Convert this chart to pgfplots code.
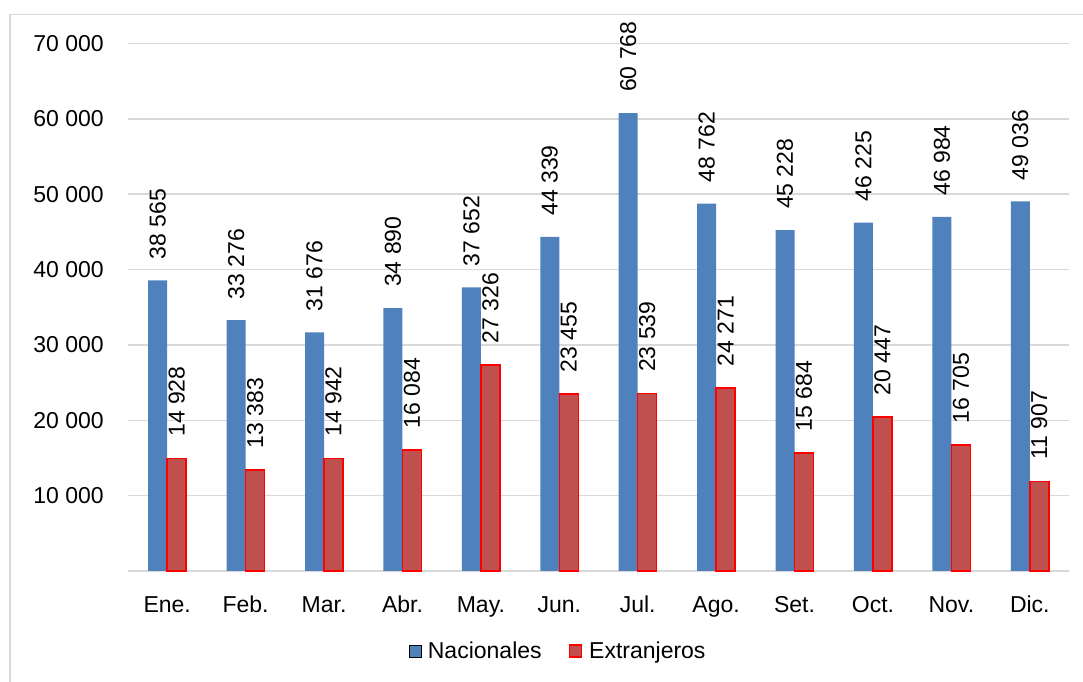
\documentclass[border=0pt]{standalone}
\usepackage{fontspec}
\setmainfont{Liberation Sans}
\usepackage{pgfplots}
\pgfplotsset{compat=1.18}
\definecolor{nacblue}{HTML}{4F81BD}
\definecolor{extred}{HTML}{C0504D}
\definecolor{gridgray}{HTML}{D9D9D9}
\begin{document}
\begin{tikzpicture}[x=1bp,y=1bp]
\useasboundingbox (0,0) rectangle (1083,682);
\draw[gridgray, line width=1.5bp] (10,-5) -- (10,667.5) -- (1090,667.5);
\begin{axis}[
  at={(128bp,111bp)}, anchor=south west,
  scale only axis, width=941bp, height=527.5bp,
  clip=false,
  font=\fontsize{23bp}{27bp}\selectfont,
  xmin=-0.5, xmax=11.5, ymin=0, ymax=70000,
  scaled y ticks=false,
  xtick={0,...,11},
  xticklabels={Ene.,Feb.,Mar.,Abr.,May.,Jun.,Jul.,Ago.,Set.,Oct.,Nov.,Dic.},
  ytick={0,10000,20000,30000,40000,50000,60000,70000},
  yticklabels={,10 000,20 000,30 000,40 000,50 000,60 000,70 000},
  ymajorgrids,
  major grid style={gridgray, line width=1.5bp},
  axis line style={draw=none},
  tick style={draw=none},
  xticklabel style={anchor=base, inner sep=0pt, yshift=-37bp},
  yticklabel style={anchor=east, inner sep=0pt, xshift=-24bp},
  ybar=0pt, bar width=19bp,
  /pgf/number format/.cd, 1000 sep={\ }, assume math mode=true,
  /pgfplots/.cd,
  nodes near coords={\pgfmathprintnumber{\pgfplotspointmeta}},
  nodes near coords style={rotate=90, anchor=west, inner xsep=21bp, inner ysep=0pt, black, font=\fontsize{23bp}{27bp}\selectfont},
  legend style={at={(0.456,-0.152)}, anchor=center, draw=none, fill=none,
    legend columns=2, font=\fontsize{23bp}{27bp}\selectfont,
    /tikz/every even column/.append style={column sep=27bp},
    nodes={inner xsep=0pt}},
  legend image code/.code={\draw[#1] (0bp,-6bp) rectangle (12bp,6bp); \path (19bp,0bp);},
]
\addplot[fill=nacblue, draw=none] coordinates {
(0,38565) (1,33276) (2,31676) (3,34890) (4,37652) (5,44339)
(6,60768) (7,48762) (8,45228) (9,46225) (10,46984) (11,49036)};
\addplot[fill=extred, draw=red, line width=1.5bp] coordinates {
(0,14928) (1,13383) (2,14942) (3,16084) (4,27326) (5,23455)
(6,23539) (7,24271) (8,15684) (9,20447) (10,16705) (11,11907)};
\legend{Nacionales,Extranjeros}
\end{axis}
\end{tikzpicture}
\end{document}
